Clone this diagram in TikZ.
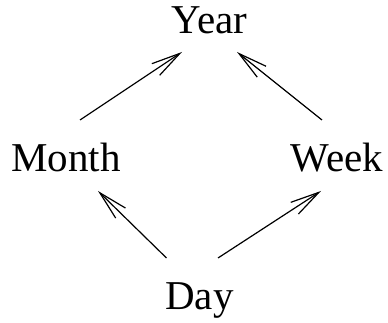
\documentclass[tikz,border=0pt]{standalone}
\usepackage{fontspec}
\setmainfont{Liberation Serif}
\usetikzlibrary{arrows.meta,calc}
\begin{document}
\begin{tikzpicture}[x=1pt,y=1pt,
  lbl/.style={inner sep=0pt,anchor=base,font=\fontsize{41}{49}\selectfont},
  arr/.style={line width=1.2pt,-{Straight Barb[length=29pt,width=14pt,line width=1.2pt]}}]
\useasboundingbox (0,0) rectangle (388,323);
% the four period nodes, placed by their baselines
\node[lbl] (year)  at (209.5,289) {Year};
\node[lbl] (month) at (66,151)    {Month};
\node[lbl] (week)  at (337,151)   {Week};
\node[lbl] (day)   at (199.5,13)  {Day};
% refinement arrows
\draw[arr] ($(month.base)+(14,52)$) -- ($(year.base)+(-27.5,-18)$);
\draw[arr] ($(week.base)+(-15,52)$) -- ($(year.base)+(27.5,-18)$);
\draw[arr] ($(day.base)+(-33,52)$) -- ($(month.base)+(32,-19)$);
\draw[arr] ($(day.base)+(18.5,52)$) -- ($(week.base)+(-16,-19)$);
\end{tikzpicture}
\end{document}
